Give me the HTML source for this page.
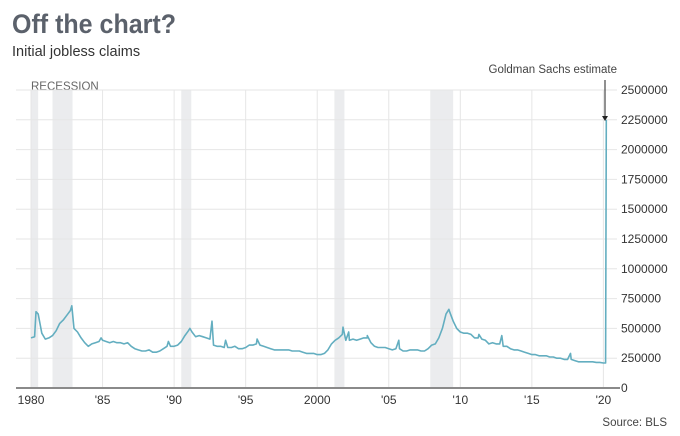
<!DOCTYPE html>
<html><head><meta charset="utf-8"><style>
body{margin:0;background:#fff;font-family:"Liberation Sans",sans-serif;}
#wrap{position:relative;width:680px;height:436px;overflow:hidden;}
</style></head><body>
<div id="wrap">
<svg id="chart" width="680" height="436">
<text x="12" y="33" font-size="27" font-weight="bold" fill="#5b616b" textLength="164" lengthAdjust="spacingAndGlyphs">Off the chart?</text>
<text x="12" y="56" font-size="14.5" fill="#333">Initial jobless claims</text>
<text x="617" y="73" font-size="11.5" fill="#444" text-anchor="end">Goldman Sachs estimate</text>
<text x="31" y="90" font-size="11.5" fill="#666">RECESSION</text>
<text x="667" y="426" font-size="11.5" fill="#444" text-anchor="end">Source: BLS</text>
<g id="rec"></g><g id="grid"></g><g id="line"></g><g id="axes"></g>
<line x1="605" y1="80" x2="605" y2="117" stroke="#222" stroke-width="1"/>
<polygon points="602,116 608,116 605,121" fill="#222"/>
</svg>
</div>
<script>
const recessions=[[1980.0,1980.5],[1981.5,1982.9],[1990.5,1991.2],[2001.2,2001.9],[2007.9,2009.5]];
const yTicks=[0,250000,500000,750000,1000000,1250000,1500000,1750000,2000000,2250000,2500000];
const xTickYears=[1980,1985,1990,1995,2000,2005,2010,2015,2020];
const xTickLabels=["1980","'85","'90","'95","2000","'05","'10","'15","'20"];
const startYear=1980;
const quarterly=[420,430,620,460,410,420,440,480,540,570,610,650,500,470,420,380,350,370,380,390,400,390,380,390,380,380,370,380,350,330,320,310,310,320,300,300,310,330,350,350,350,360,390,440,480,470,430,440,430,420,410,360,350,350,340,340,340,350,330,330,340,360,360,370,360,350,340,330,320,320,320,320,320,310,310,310,300,290,290,290,280,280,290,320,370,400,420,450,400,400,410,400,410,420,420,380,350,340,340,340,330,320,330,330,310,310,320,320,320,310,310,330,360,370,420,500,620,640,560,500,470,460,460,450,420,420,410,400,370,380,370,370,350,350,330,320,320,310,300,290,280,280,270,270,270,260,260,250,250,240,240,240,230,220,220,220,220,220,215,215,210];
const spikeYears=[1980.35,1982.85,1984.9,1989.6,1991.1,1992.65,1993.6,1995.8,2001.8,2002.2,2003.5,2005.7,2009.2,2011.3,2012.9,2017.7];
const spikeValues=[640,690,420,390,500,560,400,410,510,470,440,400,660,450,440,290];
const finalYears=[2020.15,2020.2];
const finalValues=[210,2250];
const X0=16,X1=617,Y0=388,Y1=90,YMIN=1978.95,YMAX=2020.95;
const x=v=>X0+(v-YMIN)/(YMAX-YMIN)*(X1-X0);
const y=v=>Y0-v/2500000*(Y0-Y1);
const NS="http://www.w3.org/2000/svg";
function mk(t,a,p){const e=document.createElementNS(NS,t);for(const k in a)e.setAttribute(k,a[k]);p.appendChild(e);return e;}
const rec=document.getElementById('rec');
recessions.forEach(r=>{const e=mk('rect',{x:x(r[0]),y:Y1,width:x(r[1])-x(r[0]),height:Y0-Y1,fill:'#ebecee'},rec);

});
const grid=document.getElementById('grid');
yTicks.forEach(t=>{const e=mk('line',{x1:X0,x2:X1,y1:y(t),y2:y(t),stroke:'#e6e6e6','stroke-width':1},grid);


const l=mk('text',{x:X1+4,y:y(t)+4,'font-size':12,fill:'#333'},grid);l.textContent=String(t);

});
xTickYears.forEach((yr,i)=>{const e=mk('line',{x1:x(yr),x2:x(yr),y1:Y1,y2:Y0,stroke:'#e6e6e6','stroke-width':1},grid);


const l=mk('text',{x:x(yr),y:404,'font-size':12,fill:'#333','text-anchor':'middle'},grid);l.textContent=xTickLabels[i];

});
let pts=quarterly.map((v,i)=>[startYear+i*0.25,v]);
spikeYears.forEach((s,i)=>pts.push([s,spikeValues[i]]));
finalYears.forEach((s,i)=>pts.push([s,finalValues[i]]));
pts.sort((a,b)=>a[0]-b[0]);
const path=mk('path',{d:pts.map((p,i)=>(i?'L':'M')+x(p[0]).toFixed(1)+','+y(p[1]*1000).toFixed(1)).join(''),fill:'none',stroke:'#63aec0','stroke-width':1.6,'stroke-linejoin':'round'},document.getElementById('line'));


const ax=mk('line',{x1:X0,x2:X1+3,y1:Y0,y2:Y0,stroke:'#8a8a8a','stroke-width':2},document.getElementById('axes'));


</script>
</body></html>
